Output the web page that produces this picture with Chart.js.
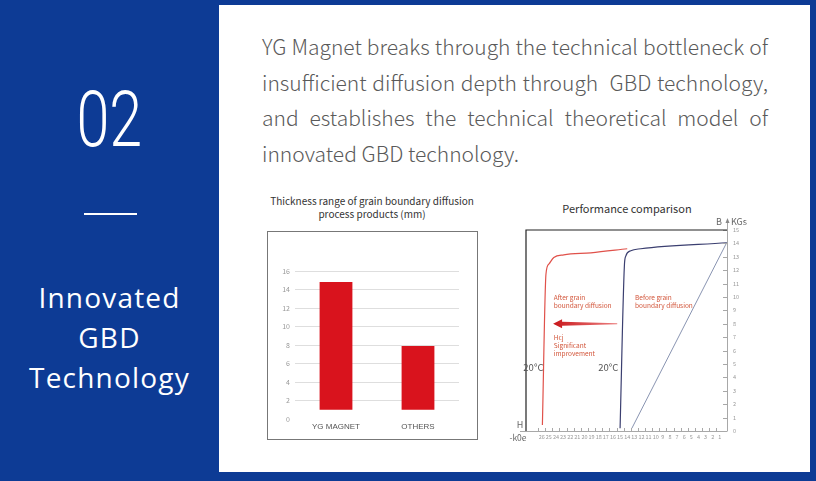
<!DOCTYPE html>
<html><head><meta charset="utf-8">
<script src="https://cdn.jsdelivr.net/npm/chart.js@4.4.1/dist/chart.umd.min.js"></script>
<style>
html,body{margin:0;padding:0;}
body{width:816px;height:481px;overflow:hidden;background:#0d3b95;position:relative;font-family:"Noto Sans CJK SC","Noto Sans",sans-serif;}
.abs{position:absolute;}
#white{left:219px;top:5px;width:591px;height:467px;background:#fff;}
#num{left:0;width:219px;top:78px;text-align:center;color:#fff;font-family:Roboto,"Noto Sans",sans-serif;font-weight:300;font-size:78px;line-height:84px;}
#num span{display:inline-block;transform:scaleX(0.76);}
#rule{left:84px;top:213px;width:53px;height:2px;background:#fff;}
#side{left:0;width:219px;top:277px;text-align:center;color:#fff;font-family:"Open Sans","Noto Sans",sans-serif;font-weight:500;font-size:28px;line-height:40px;letter-spacing:1.2px;}
#para{left:262px;top:29px;width:506px;color:#5a5a5a;font-size:21px;font-weight:300;line-height:35.5px;}
#para .j{text-align:justify;text-align-last:justify;white-space:nowrap;}
#barTitle{left:262px;top:194px;width:220px;text-align:center;font-size:10px;line-height:13px;color:#333;}
#barBox{left:267px;top:231px;width:209px;height:207px;border:1px solid #777;}
#perfTitle{left:557px;top:201px;width:140px;text-align:center;font-size:11px;line-height:15px;color:#333;}
#perfWrap{left:505px;top:214px;width:255px;height:232px;}
</style></head>
<body>
<div id="white" class="abs"></div>
<div id="num" class="abs"><span>02</span></div>
<div id="rule" class="abs"></div>
<div id="side" class="abs">Innovated<br>GBD<br>Technology</div>
<div id="para" class="abs">
<div class="j">YG Magnet breaks through the technical bottleneck of</div>
<div class="j">insufficient diffusion depth through&nbsp; GBD technology,</div>
<div class="j">and establishes the technical theoretical model of</div>
<div>innovated GBD technology.</div>
</div>
<div id="barTitle" class="abs">Thickness range of grain boundary diffusion<br>process products (mm)</div>
<div id="barBox" class="abs"><canvas id="bar" width="209" height="207" style="width:209px;height:207px;display:block"></canvas></div>
<div id="perfTitle" class="abs">Performance comparison</div>
<div id="perfWrap" class="abs"><canvas id="perf" width="255" height="232" style="width:255px;height:232px;display:block"></canvas></div>
<script>
// ---- Bar chart data ----
const categories = ['YG MAGNET', 'OTHERS'];
const barLow = [1, 1];
const barHigh = [14.8, 7.9];
const yTicks = [0, 2, 4, 6, 8, 10, 12, 14, 16];

// ---- Performance comparison data (H in kOe, B in kGs) ----
const hLabels = [26,25,24,23,22,21,20,19,18,17,16,15,14,13,12,11,10,9,8,7,6,5,4,3,2,1];
const bTicks = [0,1,2,3,4,5,6,7,8,9,10,11,12,13,14,15];
const afterH = [25.9, 25.4, 25.0, 24.3, 22.9, 19.1, 14.0];
const afterB = [0.45, 11.7, 12.45, 12.95, 13.15, 13.3, 13.6];
const beforeH = [15.0, 14.4, 14.2, 13.5, 12.1, 0];
const beforeB = [0.2, 12.3, 13.05, 13.45, 13.6, 14.05];
const recoilH = [13.35, 0];
const recoilB = [0.2, 14.1];

Chart.defaults.font.family = '"Noto Sans CJK SC","Noto Sans",sans-serif';

new Chart(document.getElementById('bar'), {
  type: 'bar',
  data: {
    labels: categories,
    datasets: [{
      data: categories.map((c, i) => [barLow[i], barHigh[i]]),
      backgroundColor: '#d9131d',
      categoryPercentage: 1,
      barPercentage: 0.4,
      borderSkipped: false
    }]
  },
  options: {
    responsive: false, animation: false,
    layout: { padding: { top: 39, right: 18, left: 0, bottom: 0 } },
    plugins: { legend: { display: false }, tooltip: { enabled: false } },
    scales: {
      x: {
        grid: { display: false, drawTicks: false }, border: { display: false },
        ticks: { color: '#555', font: { family: 'Liberation Sans', size: 8 }, padding: 3 },
        afterFit: s => { s.height = 20; }
      },
      y: {
        min: 0, max: 16,
        afterBuildTicks: s => { s.ticks = yTicks.map(v => ({ value: v })); },
        grid: { color: c => (c.tick && c.tick.value === 0) ? 'rgba(0,0,0,0)' : '#dedede', drawTicks: false, lineWidth: 1 },
        border: { display: false },
        ticks: { color: '#999', font: { size: 7 }, padding: 5 },
        afterFit: s => { s.width = 27; }
      }
    }
  }
});

const perfNotes = [
  { t: 'After grain', h: 24.3, b: 9.98, c: '#d2553a', s: 6.5, a: 'left' },
  { t: 'boundary diffusion', h: 24.3, b: 9.38, c: '#d2553a', s: 6.5, a: 'left' },
  { t: 'Before grain', h: 12.9, b: 9.98, c: '#d2553a', s: 6.5, a: 'left' },
  { t: 'boundary diffusion', h: 12.9, b: 9.38, c: '#d2553a', s: 6.5, a: 'left' },
  { t: 'Hcj', h: 24.3, b: 6.98, c: '#d2553a', s: 6.5, a: 'left' },
  { t: 'Significant', h: 24.3, b: 6.38, c: '#d2553a', s: 6.5, a: 'left' },
  { t: 'improvement', h: 24.3, b: 5.78, c: '#d2553a', s: 6.5, a: 'left' },
  { t: '20°C', h: 25.75, b: 4.73, c: '#555', s: 9.5, a: 'right' },
  { t: '20°C', h: 15.25, b: 4.73, c: '#555', s: 9.5, a: 'right' }
];
const arrowSpan = { tail: 15.4, tip: 24.4, b: 8.0 };

const perfDecor = {
  id: 'perfDecor',
  afterDraw(chart) {
    const { ctx, chartArea: a, scales: { x, y } } = chart;
    ctx.save();
    ctx.strokeStyle = '#a8a8a8'; ctx.lineWidth = 1;
    ctx.beginPath();
    ctx.moveTo(a.left - 6, Math.round(a.bottom) + 0.5); ctx.lineTo(a.right, Math.round(a.bottom) + 0.5);
    ctx.moveTo(Math.round(a.right) + 0.5, a.bottom); ctx.lineTo(Math.round(a.right) + 0.5, a.top - 10);
    bTicks.forEach(v => { const py = Math.round(y.getPixelForValue(v)) + 0.5; ctx.moveTo(a.right - 4, py); ctx.lineTo(a.right + 0.5, py); });
    hLabels.forEach(v => { const px = Math.round(x.getPixelForValue(v + 0.5)) + 0.5; ctx.moveTo(px, a.bottom); ctx.lineTo(px, a.bottom - 3); });
    ctx.stroke();
    ctx.fillStyle = '#888';
    ctx.beginPath();
    ctx.moveTo(a.right + 0.5, a.top - 12); ctx.lineTo(a.right - 1.5, a.top - 7); ctx.lineTo(a.right + 2.5, a.top - 7); ctx.closePath(); ctx.fill();
    ctx.strokeStyle = '#222'; ctx.lineWidth = 1.2;
    ctx.beginPath();
    ctx.moveTo(a.left, a.bottom); ctx.lineTo(a.left, a.top); ctx.lineTo(a.right, a.top);
    ctx.stroke();
    ctx.fillStyle = '#666'; ctx.textBaseline = 'middle';
    ctx.font = '9px "Noto Sans CJK SC","Noto Sans",sans-serif';
    ctx.textAlign = 'center';
    ctx.fillText('B', a.right - 8, a.top - 8);
    ctx.textAlign = 'left';
    ctx.fillText('KGs', a.right + 4, a.top - 8);
    ctx.textAlign = 'center';
    ctx.fillText('H', a.left - 6, a.bottom - 6);
    ctx.font = '8.5px "Noto Sans CJK SC","Noto Sans",sans-serif';
    ctx.fillText('-k0e', a.left - 8, a.bottom + 7);
    const yc = y.getPixelForValue(arrowSpan.b);
    const xt = x.getPixelForValue(arrowSpan.tail);
    const xp = x.getPixelForValue(arrowSpan.tip);
    const hb = xp + 9;
    const g = ctx.createLinearGradient(xp, 0, xt, 0);
    g.addColorStop(0, '#c8161a'); g.addColorStop(1, 'rgba(225,70,70,0.7)');
    ctx.fillStyle = g;
    ctx.beginPath();
    ctx.moveTo(xt, yc - 0.5);
    ctx.lineTo(hb, yc - 2);
    ctx.lineTo(hb, yc - 4.5);
    ctx.lineTo(xp, yc);
    ctx.lineTo(hb, yc + 4.5);
    ctx.lineTo(hb, yc + 2);
    ctx.lineTo(xt, yc + 0.5);
    ctx.closePath(); ctx.fill();
    perfNotes.forEach(n => {
      ctx.fillStyle = n.c; ctx.textAlign = n.a; ctx.textBaseline = 'middle';
      ctx.font = n.s + 'px "Noto Sans CJK SC","Noto Sans",sans-serif';
      ctx.fillText(n.t, x.getPixelForValue(n.h), y.getPixelForValue(n.b));
    });
    ctx.restore();
  }
};

const pts = (hs, bs) => hs.map((h, i) => ({ x: h, y: bs[i] }));

new Chart(document.getElementById('perf'), {
  type: 'line',
  data: {
    datasets: [
      { data: pts(recoilH, recoilB), borderColor: '#7c88a8', borderWidth: 0.9, pointRadius: 0, tension: 0 },
      { data: pts(afterH, afterB), borderColor: '#e0514a', borderWidth: 1.2, pointRadius: 0, cubicInterpolationMode: 'monotone' },
      { data: pts(beforeH, beforeB), borderColor: '#3b3f70', borderWidth: 1.2, pointRadius: 0, cubicInterpolationMode: 'monotone' }
    ]
  },
  options: {
    responsive: false, animation: false,
    layout: { padding: { top: 16, left: 21, right: 0, bottom: 0 } },
    plugins: { legend: { display: false }, tooltip: { enabled: false } },
    scales: {
      x: {
        type: 'linear', reverse: true, min: 0, max: 28.2,
        afterBuildTicks: s => { s.ticks = hLabels.map(v => ({ value: v })); },
        grid: { display: false, drawTicks: false }, border: { display: false },
        ticks: { color: '#999', font: { size: 5.5 }, padding: 3, maxRotation: 0, autoSkip: false },
        afterFit: s => { s.height = 15; }
      },
      y: {
        type: 'linear', position: 'right', min: 0, max: 15,
        afterBuildTicks: s => { s.ticks = bTicks.map(v => ({ value: v })); },
        grid: { display: false, drawTicks: false }, border: { display: false },
        ticks: { color: '#999', font: { size: 5.5 }, padding: 6, autoSkip: false },
        afterFit: s => { s.width = 33; }
      }
    }
  },
  plugins: [perfDecor]
});
</script>
</body></html>
